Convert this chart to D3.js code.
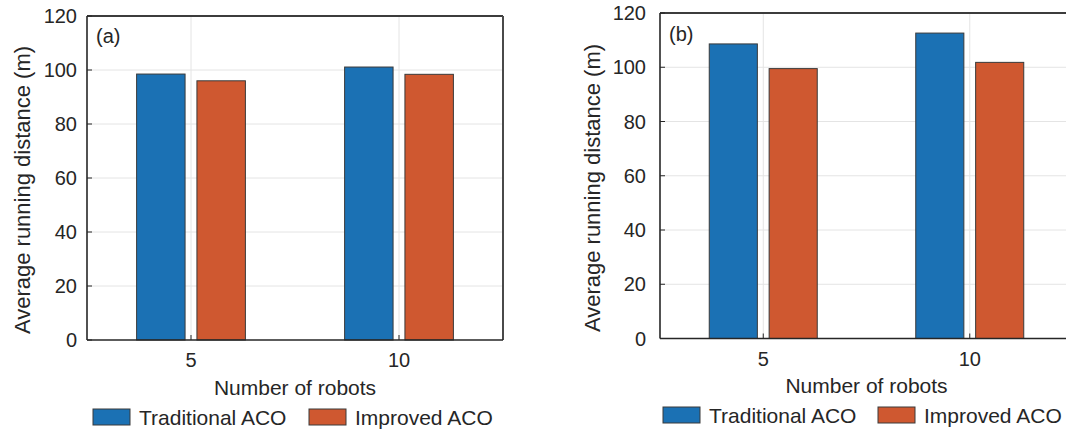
<!DOCTYPE html>
<html>
<head>
<meta charset="utf-8">
<script src="https://cdn.jsdelivr.net/npm/d3@7"></script>
<style>
  html, body { margin: 0; padding: 0; background: #fff; }
  svg { display: block; font-family: "Liberation Sans", Arial, Helvetica, sans-serif; }
</style>
</head>
<body>
<svg id="chart" width="1066" height="430"></svg>
<script>
// Number of robots on the x axis
const categories = ["5", "10"];
const seriesNames = ["Traditional ACO", "Improved ACO"];
const seriesColors = ["#1b71b4", "#cf5830"];
const yTicks = [0, 20, 40, 60, 80, 100, 120];

// Panel (a)
const traditionalA = [98.5, 101.1];
const improvedA = [96.0, 98.4];
// Panel (b)
const traditionalB = [108.6, 112.6];
const improvedB = [99.5, 101.8];

const svg = d3.select("#chart");
const ink = "#262626";

function drawPanel(cfg) {
  const g = svg.append("g");
  const series = [cfg.traditional, cfg.improved];

  const x = d3.scaleLinear().domain([0.5, 2.5]).range([cfg.x0, cfg.x1]);
  const y = d3.scaleLinear().domain([0, 120]).range([cfg.yb, cfg.yt]);
  const unit = x(2) - x(1);
  const barW = 0.233 * unit;
  const offsets = [-0.145, 0.145];

  // grid
  g.selectAll(".gy").data(yTicks.slice(1, -1)).join("line")
    .attr("x1", cfg.x0).attr("x2", cfg.x1)
    .attr("y1", d => y(d)).attr("y2", d => y(d))
    .attr("stroke", "#e4e4e4").attr("stroke-width", 1);
  g.selectAll(".gx").data(categories).join("line")
    .attr("x1", (d, i) => x(i + 1)).attr("x2", (d, i) => x(i + 1))
    .attr("y1", cfg.yt).attr("y2", cfg.yb)
    .attr("stroke", "#e4e4e4").attr("stroke-width", 1);

  // bars
  series.forEach((vals, s) => {
    g.selectAll(".bar" + s).data(vals).join("rect")
      .attr("x", (d, i) => x(i + 1) + offsets[s] * unit - barW / 2)
      .attr("width", barW)
      .attr("y", d => y(d))
      .attr("height", d => y(0) - y(d))
      .attr("fill", seriesColors[s])
      .attr("stroke", "#3a3a3a")
      .attr("stroke-width", 1);
  });

  // frame
  g.append("line").attr("x1", cfg.x0).attr("x2", cfg.x1).attr("y1", cfg.yt).attr("y2", cfg.yt)
    .attr("stroke", "#3c3c3c").attr("stroke-width", 1.8);
  g.append("line").attr("x1", cfg.x1).attr("x2", cfg.x1).attr("y1", cfg.yt).attr("y2", cfg.yb)
    .attr("stroke", "#4a4a4a").attr("stroke-width", 2);
  g.append("line").attr("x1", cfg.x0).attr("x2", cfg.x0).attr("y1", cfg.yt).attr("y2", cfg.yb)
    .attr("stroke", ink).attr("stroke-width", 1.6);
  g.append("line").attr("x1", cfg.x0).attr("x2", cfg.x1).attr("y1", cfg.yb).attr("y2", cfg.yb)
    .attr("stroke", ink).attr("stroke-width", 1.6);

  // y axis ticks (inward) and labels
  g.selectAll(".yt").data(yTicks).join("line")
    .attr("x1", cfg.x0).attr("x2", cfg.x0 + 5)
    .attr("y1", d => y(d)).attr("y2", d => y(d))
    .attr("stroke", ink).attr("stroke-width", 1);
  g.selectAll(".yl").data(yTicks).join("text")
    .attr("x", cfg.x0 - cfg.labelGap)
    .attr("y", d => y(d))
    .attr("dy", "0.36em")
    .attr("text-anchor", "end")
    .attr("font-size", 20)
    .attr("fill", ink)
    .text(d => d);

  // x axis ticks and labels
  g.selectAll(".xt").data(categories).join("line")
    .attr("x1", (d, i) => x(i + 1)).attr("x2", (d, i) => x(i + 1))
    .attr("y1", cfg.yb).attr("y2", cfg.yb - 5)
    .attr("stroke", ink).attr("stroke-width", 1);
  g.selectAll(".xl").data(categories).join("text")
    .attr("x", (d, i) => x(i + 1))
    .attr("y", cfg.yb + 27)
    .attr("text-anchor", "middle")
    .attr("font-size", 20)
    .attr("fill", ink)
    .text(d => d);

  // axis titles
  g.append("text")
    .attr("x", (x(1) + x(2)) / 2 - 0)
    .attr("y", cfg.xTitleY)
    .attr("text-anchor", "middle")
    .attr("font-size", 21)
    .attr("fill", ink)
    .text("Number of robots");
  g.append("text")
    .attr("transform", `translate(${cfg.yTitleX},${cfg.yTitleY}) rotate(-90)`)
    .attr("text-anchor", "middle")
    .attr("dy", "0.36em")
    .attr("font-size", 22)
    .attr("fill", ink)
    .text("Average running distance (m)");

  // panel tag
  g.append("text")
    .attr("x", cfg.x0 + 9)
    .attr("y", cfg.tagY)
    .attr("font-size", 20)
    .attr("fill", ink)
    .text(cfg.tag);

  // legend
  const leg = g.append("g");
  seriesNames.forEach((name, s) => {
    leg.append("rect")
      .attr("x", cfg.legendX[s]).attr("y", cfg.legendY)
      .attr("width", 37).attr("height", 16)
      .attr("fill", seriesColors[s])
      .attr("stroke", "#3a3a3a").attr("stroke-width", 1);
    leg.append("text")
      .attr("x", cfg.legendX[s] + 46)
      .attr("y", cfg.legendY + 16)
      .attr("font-size", 21)
      .attr("fill", ink)
      .text(name);
  });
}

drawPanel({
  traditional: traditionalA, improved: improvedA,
  x0: 87, x1: 503, yt: 16, yb: 340, labelGap: 10,
  xTitleY: 395, yTitleX: 22, yTitleY: 190,
  tag: "(a)", tagY: 43,
  legendX: [93, 309], legendY: 409
});

drawPanel({
  traditional: traditionalB, improved: improvedB,
  x0: 660, x1: 1073, yt: 13, yb: 338.5, labelGap: 14,
  xTitleY: 393, yTitleX: 592, yTitleY: 188,
  tag: "(b)", tagY: 41,
  legendX: [663, 878], legendY: 407
});
</script>
</body>
</html>
